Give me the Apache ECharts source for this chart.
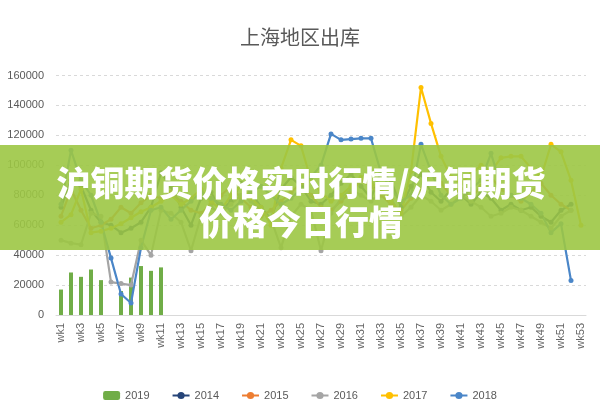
<!DOCTYPE html>
<html>
<head>
<meta charset="utf-8">
<script src="https://cdn.jsdelivr.net/npm/echarts@6/dist/echarts.min.js"></script>
<style>
html,body{margin:0;padding:0;background:#fff;}
#c{width:600px;height:400px;}
</style>
</head>
<body>
<div id="c"></div>
<script>
var weeks = [];
for (var i = 1; i <= 53; i++) weeks.push('wk' + i);

var yTicks = [0, 20000, 40000, 60000, 80000, 100000, 120000, 140000, 160000];

var s2019 = [17000,28400,25500,30400,23300,null,16000,25000,32700,29500,31800];
var s2014 = [72000,90000,86000,70000,62000,60000,55000,58000,62000,72000,95000,86000,72000,60000,78000,82000,70000,76000,88000,82000,72000,64000,84000,92000,86000,76000,74000,80000,88000,94000,86000,78000,96000,90000,72000,86000,94000,82000,76000,84000,80000,74000,82000,78000,70000,74000,70000,72000,66000,62000,70000,74000,null];
var s2015 = [66000,84000,70000,58000,60000,64000,72000,68000,75000,80000,78000,82000,76000,70000,68000,74000,80000,86000,78000,72000,66000,70000,76000,82000,88000,80000,72000,70000,76000,82000,90000,86000,80000,74000,70000,78000,84000,96000,88000,80000,84000,78000,86000,92000,84000,80000,76000,82000,88000,80000,74000,70000,null];
var s2016 = [50000,48000,47000,68000,66000,22000,21000,20000,50000,40000,70000,68000,62000,43000,66000,72000,68000,74000,80000,76000,70000,64000,45000,66000,74000,70000,43000,68000,78000,84000,80000,76000,82000,78000,66000,72000,80000,76000,70000,74000,80000,76000,72000,66000,68000,72000,70000,66000,62000,58000,66000,70000,null];
var s2017 = [62000,67000,84000,55000,56000,58000,61000,65000,69000,72000,76000,80000,74000,78000,84000,76000,70000,80000,86000,78000,72000,60000,98000,117000,113000,90000,82000,76000,80000,86000,92000,88000,84000,76000,68000,96000,152000,128000,106000,92000,88000,94000,100000,96000,105000,106000,106000,98000,92000,114000,109000,90000,60000];
var s2018 = [74000,110000,90000,80000,62000,38000,14000,8000,45000,70000,72000,64000,70000,76000,82000,78000,74000,70000,76000,82000,86000,80000,74000,78000,84000,92000,100000,121000,117000,117500,118000,118000,95000,84000,76000,80000,114000,96000,80000,74000,78000,84000,90000,108000,86000,80000,78000,74000,68000,55000,61000,23000,null];

var chart = echarts.init(document.getElementById('c'), null, {renderer: 'canvas'});

function lineSeries(name, data, color) {
  return {
    name: name, type: 'line', data: data,
    symbol: 'circle', symbolSize: 5,
    lineStyle: {color: color, width: 2.2},
    itemStyle: {color: color},
    z: 3
  };
}

chart.setOption({
  animation: false,
  backgroundColor: '#ffffff',
  title: {
    text: '上海地区出库',
    left: 'center',
    top: 22,
    textStyle: {fontFamily: 'Noto Sans CJK SC', fontSize: 20, fontWeight: 'normal', color: '#595959'}
  },
  legend: {
    bottom: -6,
    left: 'center',
    itemWidth: 17,
    itemHeight: 9,
    itemGap: 22,
    textStyle: {fontFamily: 'Liberation Sans', fontSize: 11, color: '#595959'},
    data: ['2019', '2014', '2015', '2016', '2017', '2018']
  },
  grid: {left: 56, right: 14, top: 75.5, bottom: 85},
  xAxis: {
    type: 'category',
    data: weeks,
    boundaryGap: true,
    axisLine: {lineStyle: {color: '#d9d9d9'}},
    axisTick: {show: false},
    axisLabel: {interval: 1, rotate: 90, color: '#666666', fontFamily: 'Liberation Sans', fontSize: 11, margin: 8}
  },
  yAxis: {
    type: 'value',
    min: yTicks[0],
    max: yTicks[yTicks.length - 1],
    interval: 20000,
    axisLine: {show: false},
    axisTick: {show: false},
    axisLabel: {color: '#595959', fontFamily: 'Liberation Sans', fontSize: 11, margin: 12,
      formatter: function (v) { return String(v); }},
    splitLine: {lineStyle: {color: '#d9d9d9', type: [3, 3]}}
  },
  series: [
    {name: '2019', type: 'bar', data: s2019, barWidth: 4, itemStyle: {color: '#70AD47'}, z: 2},
    lineSeries('2014', s2014, '#264478'),
    lineSeries('2015', s2015, '#ED7D31'),
    lineSeries('2016', s2016, '#A5A5A5'),
    lineSeries('2017', s2017, '#FFC000'),
    lineSeries('2018', s2018, '#4A86C8')
  ],
  graphic: [
    {
      type: 'rect', z: 100,
      shape: {x: 0, y: 145, width: 600, height: 105},
      style: {fill: 'rgba(156,198,68,0.9)'}
    },
    {
      type: 'text', z: 101,
      style: {
        x: 301, y: 183, text: '沪铜期货价格实时行情/沪铜期货',
        textAlign: 'center', textVerticalAlign: 'middle',
        font: '900 34px "Noto Sans CJK SC"', fill: '#ffffff'
      }
    },
    {
      type: 'text', z: 101,
      style: {
        x: 301, y: 222, text: '价格今日行情',
        textAlign: 'center', textVerticalAlign: 'middle',
        font: '900 34px "Noto Sans CJK SC"', fill: '#ffffff'
      }
    }
  ]
});
</script>
</body>
</html>
